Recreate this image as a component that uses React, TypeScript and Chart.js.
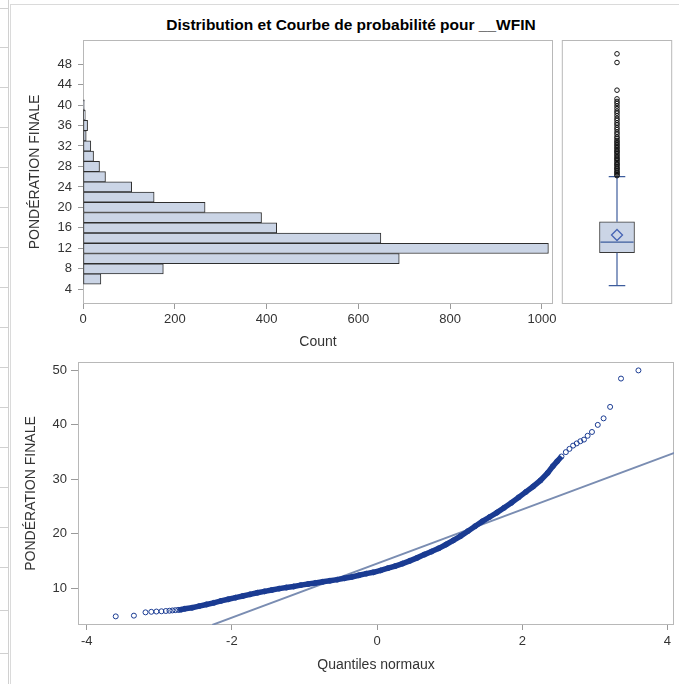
import { useEffect, useRef } from "react";
import { Chart, registerables } from "chart.js";

Chart.register(...registerables);

// ---------- data ----------
const TITLE = "Distribution et Courbe de probabilité pour __WFIN";
const Y_LABEL = "PONDÉRATION FINALE";
const HIST_X_LABEL = "Count";
const QQ_X_LABEL = "Quantiles normaux";

const BIN_MIDPOINTS = [6, 8, 10, 12, 14, 16, 18, 20, 22, 24, 26, 28, 30, 32, 34, 36, 38, 40];
const BIN_COUNTS = [39, 175, 689, 1014, 649, 422, 389, 266, 155, 106, 49, 36, 23, 17, 7, 10, 5, 3];
const HIST_Y_TICKS = [4, 8, 12, 16, 20, 24, 28, 32, 36, 40, 44, 48];
const HIST_X_TICKS = [0, 200, 400, 600, 800, 1000];

const BOX_WHISKERS = [4.7, 26.0];
const BOX_QUARTILES = [11.15, 17.2];
const BOX_MEDIAN = [13.2];
const BOX_MEAN = [14.6];
const BOX_OUTLIERS = [
  26.2, 26.4, 26.7, 26.9, 27.2, 27.5, 27.7, 28.0, 28.3, 28.5, 28.8, 29.1, 29.4, 29.6, 29.9,
  30.2, 30.5, 30.8, 31.0, 31.3, 31.6, 31.9, 32.2, 32.5, 32.8, 33.1, 33.5, 33.8, 34.3, 34.7,
  35.2, 35.6, 36.1, 36.5, 37.0, 37.4, 37.9, 38.4, 38.8, 39.3, 39.8, 40.3, 40.7, 41.2, 42.9,
  48.3, 50.0,
];

const QQ_QUANTILES = [
  -3.6, -3.35, -3.19, -3.11, -3.04, -2.97, -2.91, -2.86, -2.82, -2.78, -2.74, -2.7,
  -2.65, -2.55, -2.45, -2.35, -2.25, -2.15, -2.05, -1.95, -1.85, -1.75, -1.65, -1.55,
  -1.45, -1.35, -1.25, -1.15, -1.05, -0.95, -0.85, -0.75, -0.65, -0.55, -0.45, -0.35,
  -0.25, -0.15, -0.05, 0.05, 0.15, 0.25, 0.35, 0.45, 0.55, 0.65, 0.75, 0.85, 0.95, 1.05,
  1.15, 1.25, 1.35, 1.45, 1.55, 1.65, 1.75, 1.85, 1.95, 2.05, 2.15, 2.25, 2.35, 2.42,
  2.48, 2.54, 2.6, 2.65, 2.7, 2.75, 2.8, 2.85, 2.9, 2.96, 3.04, 3.12, 3.21, 3.36, 3.6,
];
const QQ_VALUES = [
  4.86, 5.0, 5.6, 5.7, 5.75, 5.8, 5.85, 5.9, 5.95, 6.0, 6.05, 6.1,
  6.25, 6.45, 6.75, 7.05, 7.35, 7.7, 8.0, 8.3, 8.6, 8.9, 9.2, 9.45,
  9.7, 9.95, 10.15, 10.35, 10.6, 10.8, 11.0, 11.2, 11.4, 11.6, 11.85, 12.1,
  12.4, 12.7, 12.95, 13.3, 13.7, 14.1, 14.55, 15.05, 15.6, 16.2, 16.75, 17.35, 18.05, 18.8,
  19.6, 20.5, 21.4, 22.3, 23.1, 23.9, 24.8, 25.7, 26.7, 27.7, 28.7, 29.8, 31.2, 32.4,
  33.3, 34.2, 35.0, 35.6, 36.2, 36.6, 37.0, 37.3, 38.0, 38.7, 40.0, 41.2, 43.3, 48.5, 50.0,
];
const QQ_BAND_RANGE = [-2.75, 2.55];
const QQ_LINE_X = [-2.27, 4.1];
const QQ_LINE_Y = [3.3, 34.9];
const QQ_X_TICKS = [-4, -2, 0, 2, 4];
const QQ_Y_TICKS = [10, 20, 30, 40, 50];

// ---------- styles ----------
const FONT = "'Liberation Sans', Arial, Helvetica, sans-serif";
const TEXT = "#333333";
const FRAME = "#b8b8b8";
const TICK = "#9a9a9a";
const BAR_FILL = "#cbd5e6";
const BAR_EDGE = "#2e2e2e";
const BOX_LINE = "#3d5c9c";
const QQ_POINT = "#1a3b92";
const QQ_LINE = "#7a8db2";

const framePlugin = {
  id: "frame",
  beforeDatasetsDraw(chart: any) {
    const { ctx, chartArea: a } = chart;
    ctx.save();
    ctx.strokeStyle = FRAME;
    ctx.lineWidth = 1;
    ctx.strokeRect(a.left + 0.5, a.top + 0.5, a.right - a.left - 1, a.bottom - a.top - 1);
    ctx.restore();
  },
};

const tickFont = { family: FONT, size: 13 };
const titleFont = { family: FONT, size: 14 };
const plain = (v: any) => String(v);

export default function App() {
  const histRef = useRef<HTMLCanvasElement>(null);
  const boxRef = useRef<HTMLCanvasElement>(null);
  const qqRef = useRef<HTMLCanvasElement>(null);

  useEffect(() => {
    Chart.defaults.font.family = FONT;
    const charts: Chart[] = [];

    // Histogram
    charts.push(
      new Chart(histRef.current!, {
        type: "bar",
        data: {
          datasets: [
            {
              data: BIN_MIDPOINTS.map((m, i) => ({ x: BIN_COUNTS[i], y: m })) as any,
              backgroundColor: BAR_FILL,
              borderColor: BAR_EDGE,
              borderWidth: 1,
              borderSkipped: false,
              barPercentage: 1,
              categoryPercentage: 1,
            },
          ],
        },
        options: {
          indexAxis: "y",
          animation: false,
          responsive: false,
          events: [],
          layout: { padding: { top: 40, right: 7, left: 0, bottom: 0 } },
          plugins: { legend: { display: false }, tooltip: { enabled: false } },
          scales: {
            x: {
              type: "linear",
              min: 0,
              max: 1024,
              offset: false,
              afterBuildTicks: (s: any) => {
                s.ticks = HIST_X_TICKS.map((v) => ({ value: v }));
              },
              afterFit: (s: any) => {
                s.height = 56;
              },
              grid: { drawOnChartArea: false, drawTicks: true, tickLength: 5, color: TICK },
              border: { display: false },
              ticks: { font: tickFont, color: TEXT, padding: 3, maxRotation: 0, callback: plain },
              title: { display: true, text: HIST_X_LABEL, font: titleFont, color: TEXT, padding: { top: 0, bottom: 9 } },
            },
            y: {
              type: "linear",
              min: 1.13,
              max: 52.7,
              offset: false,
              afterBuildTicks: (s: any) => {
                s.ticks = HIST_Y_TICKS.map((v) => ({ value: v }));
              },
              afterFit: (s: any) => {
                s.width = 83;
              },
              grid: { drawOnChartArea: false, drawTicks: true, tickLength: 5, color: TICK, offset: false },
              border: { display: false },
              ticks: { font: tickFont, color: TEXT, padding: 6, callback: plain },
              title: { display: true, text: Y_LABEL, font: titleFont, color: TEXT, padding: { top: 26.6, bottom: 0 } },
            },
          },
        },
        plugins: [framePlugin],
      })
    );

    // Box plot
    const seg = (x0: number, y0: number, x1: number, y1: number) => ({
      type: "line" as const,
      data: [
        { x: x0, y: y0 },
        { x: x1, y: y1 },
      ],
      borderColor: BOX_LINE,
      borderWidth: 1.2,
      pointRadius: 0,
      fill: false,
    });
    charts.push(
      new Chart(boxRef.current!, {
        type: "bar",
        data: {
          datasets: [
            {
              type: "scatter" as const,
              data: [{ x: 0.5, y: BOX_MEAN[0] }],
              pointStyle: "rectRot",
              pointRadius: 5.5,
              borderColor: "#4664b4",
              backgroundColor: "rgba(0,0,0,0)",
              borderWidth: 1.3,
            },
            {
              type: "scatter" as const,
              data: BOX_OUTLIERS.map((v) => ({ x: 0.5, y: v })),
              pointStyle: "circle",
              pointRadius: 2.3,
              borderColor: "#111111",
              backgroundColor: "rgba(0,0,0,0)",
              borderWidth: 1,
            },
            seg(0.35, BOX_MEDIAN[0], 0.65, BOX_MEDIAN[0]),
            seg(0.5, BOX_QUARTILES[0], 0.5, BOX_WHISKERS[0]),
            seg(0.5, BOX_QUARTILES[1], 0.5, BOX_WHISKERS[1]),
            seg(0.425, BOX_WHISKERS[0], 0.575, BOX_WHISKERS[0]),
            seg(0.425, BOX_WHISKERS[1], 0.575, BOX_WHISKERS[1]),
            {
              type: "bar" as const,
              data: [{ x: 0.5, y: BOX_QUARTILES }] as any,
              backgroundColor: BAR_FILL,
              borderColor: "#3a3a3a",
              borderWidth: 1,
              borderSkipped: false,
              barThickness: 35,
            },
          ] as any,
        },
        options: {
          animation: false,
          responsive: false,
          events: [],
          layout: { padding: { top: 40, right: 1, left: 6, bottom: 56 } },
          plugins: { legend: { display: false }, tooltip: { enabled: false } },
          scales: {
            x: { type: "linear", min: 0, max: 1, offset: false, display: false },
            y: { type: "linear", min: 1.13, max: 52.7, display: false },
          },
        },
        plugins: [framePlugin],
      })
    );

    // QQ plot
    const pts = QQ_QUANTILES.map((q, i) => ({ x: q, y: QQ_VALUES[i] }));
    const band = pts.filter((p) => p.x >= QQ_BAND_RANGE[0] && p.x <= QQ_BAND_RANGE[1]);
    charts.push(
      new Chart(qqRef.current!, {
        type: "scatter",
        data: {
          datasets: [
            {
              type: "scatter" as const,
              data: pts,
              pointStyle: "circle",
              pointRadius: 2.5,
              borderColor: QQ_POINT,
              backgroundColor: "rgba(0,0,0,0)",
              borderWidth: 1,
            },
            {
              type: "line" as const,
              data: band,
              borderColor: QQ_POINT,
              borderWidth: 5.5,
              pointRadius: 0,
              fill: false,
            },
            {
              type: "line" as const,
              data: QQ_LINE_X.map((x, i) => ({ x, y: QQ_LINE_Y[i] })),
              borderColor: QQ_LINE,
              borderWidth: 2,
              pointRadius: 0,
              fill: false,
            },
          ] as any,
        },
        options: {
          animation: false,
          responsive: false,
          events: [],
          layout: { padding: { top: 12, right: 0, left: 0, bottom: 0 } },
          plugins: { legend: { display: false }, tooltip: { enabled: false } },
          scales: {
            x: {
              type: "linear",
              min: -4.12,
              max: 4.09,
              afterBuildTicks: (s: any) => {
                s.ticks = QQ_X_TICKS.map((v) => ({ value: v }));
              },
              afterFit: (s: any) => {
                s.height = 59;
              },
              grid: { drawOnChartArea: false, drawTicks: true, tickLength: 5, color: TICK },
              border: { display: false },
              ticks: { font: tickFont, color: TEXT, padding: 4, maxRotation: 0, callback: plain },
              title: { display: true, text: QQ_X_LABEL, font: titleFont, color: TEXT, padding: { top: 0, bottom: 10.6 } },
            },
            y: {
              type: "linear",
              min: 3.28,
              max: 51.54,
              afterBuildTicks: (s: any) => {
                s.ticks = QQ_Y_TICKS.map((v) => ({ value: v }));
              },
              afterFit: (s: any) => {
                s.width = 78;
              },
              grid: { drawOnChartArea: false, drawTicks: true, tickLength: 7, color: TICK },
              border: { display: false },
              ticks: { font: tickFont, color: TEXT, padding: 4, callback: plain },
              title: { display: true, text: Y_LABEL, font: titleFont, color: TEXT, padding: { top: 22.6, bottom: 0 } },
            },
          },
        },
        plugins: [framePlugin],
      })
    );

    return () => charts.forEach((c) => c.destroy());
  }, []);

  const sideLines = [8, 47, 87, 127, 167, 207, 247, 287, 327, 367, 407, 447, 487, 527, 567, 610, 653];

  return (
    <div
      style={{
        position: "absolute",
        left: 0,
        top: 0,
        width: 679,
        height: 684,
        overflow: "hidden",
        background: "#ffffff",
      }}
    >
      <div style={{ position: "absolute", left: 8, top: 0, width: 1, height: 684, background: "#d0d0d0" }} />
      <div style={{ position: "absolute", left: 10, top: 4, width: 1, height: 680, background: "#dadada" }} />
      <div style={{ position: "absolute", left: 10, top: 4, width: 669, height: 1, background: "#dadada" }} />
      {sideLines.map((y) => (
        <div key={y} style={{ position: "absolute", left: 0, top: y, width: 8, height: 1, background: "#d0d0d0" }} />
      ))}
      <div
        style={{
          position: "absolute",
          left: 151,
          top: 15,
          width: 400,
          lineHeight: "20px",
          textAlign: "center",
          fontFamily: FONT,
          fontWeight: "bold",
          fontSize: 15.5,
          color: "#000",
          whiteSpace: "nowrap",
        }}
      >
        {TITLE}
      </div>
      <canvas
        ref={histRef}
        width={560}
        height={360}
        style={{ position: "absolute", left: 0, top: 0, width: 560, height: 360 }}
      />
      <canvas
        ref={boxRef}
        width={124}
        height={360}
        style={{ position: "absolute", left: 555, top: 0, width: 124, height: 360 }}
      />
      <canvas
        ref={qqRef}
        width={679}
        height={334}
        style={{ position: "absolute", left: 0, top: 350, width: 679, height: 334 }}
      />
    </div>
  );
}
